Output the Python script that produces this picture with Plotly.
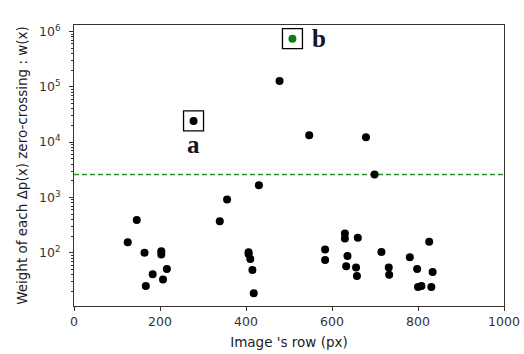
import math
import plotly.graph_objects as go

# Data
row_px = [125, 146, 164, 167, 183, 203, 203, 207, 216,
          278, 339, 356, 406, 406, 410, 415, 418, 430, 478, 547,
          584, 584, 630, 630, 633, 636, 656, 658, 660, 679, 699,
          715, 732, 733, 781, 798, 800, 808, 826, 831, 834]
weight = [155, 390, 100, 25, 41, 107, 93, 33, 51,
          24150, 373, 920, 102, 95, 77, 49, 18.5, 1670, 127000, 13300,
          115, 74, 224, 182, 57, 87, 54, 38, 186, 12250, 2600,
          103, 54, 40, 83, 51, 24, 25, 158, 24, 45]
special_x = [508]
special_y = [741000]
threshold = 2600
label_names = ["a", "b"]
label_x = [278, 508]
label_y = [24150, 741000]

fig = go.Figure()
fig.add_trace(go.Scatter(x=[0, 1000], y=[threshold, threshold], mode="lines",
                         line=dict(color="#2f912f", width=1.6, dash="5px,3px"),
                         hoverinfo="skip", showlegend=False))
fig.add_trace(go.Scatter(x=row_px, y=weight, mode="markers",
                         marker=dict(color="black", size=8), showlegend=False))
fig.add_trace(go.Scatter(x=special_x, y=special_y, mode="markers",
                         marker=dict(color="#0f7a0f", size=8), showlegend=False))
# boxes around the highlighted points
fig.add_trace(go.Scatter(x=label_x, y=label_y, mode="markers", hoverinfo="skip",
                         marker=dict(symbol="square-open", size=20, color="black",
                                     line=dict(width=1.3, color="black")),
                         showlegend=False))

for txt, xv, yv in zip(label_names, label_x, label_y):
    dx, dy = (0, -24) if txt == "a" else (27, 0)
    fig.add_annotation(x=xv, y=math.log10(yv), xref="x", yref="y", text="<b>%s</b>" % txt,
                       showarrow=False, xshift=dx, yshift=dy,
                       font=dict(family="Liberation Serif", size=25, color="#141428"))

decades = [100, 1000, 10000, 100000, 1000000]
dec_text = ["10<sup>2</sup>", "10<sup>3</sup>", "10<sup>4</sup>", "10<sup>5</sup>", "10<sup>6</sup>"]
minor_vals = [m * 10 ** e for e in range(1, 7) for m in range(2, 10)]

fig.update_layout(
    width=524, height=354,
    margin=dict(l=74, r=20, t=25, b=48),
    paper_bgcolor="white", plot_bgcolor="white",
    font=dict(family="DejaVu Sans", size=12, color="#222"),
    xaxis=dict(range=[0, 1000], tickvals=[0, 200, 400, 600, 800, 1000],
               ticks="outside", ticklen=4, tickcolor="#333", showgrid=False, zeroline=False,
               showline=True, linecolor="#333", linewidth=1, mirror=True,
               title=dict(text="Image 's row (px)", font=dict(size=13.5), standoff=9),
               tickfont=dict(size=12.5, color="#333"), automargin=False),
    yaxis=dict(type="log", range=[1.038, 6.117], tickvals=decades, ticktext=dec_text,
               ticks="outside", ticklen=4, tickcolor="#333", showgrid=False, zeroline=False,
               showline=True, linecolor="#333", linewidth=1, mirror=True,
               ticklabelstandoff=6,
               minor=dict(tickvals=minor_vals, ticks="outside", ticklen=2, tickcolor="#333", showgrid=False),
               title=dict(text="Weight of each Δp(x) zero-crossing : w(x)", font=dict(size=13.5), standoff=8),
               tickfont=dict(size=12.5, color="#333"), automargin=False),
)

fig.write_html("out.html", config={"displayModeBar": False},
               post_script="document.body.style.margin='0';document.body.style.overflow='hidden';")
